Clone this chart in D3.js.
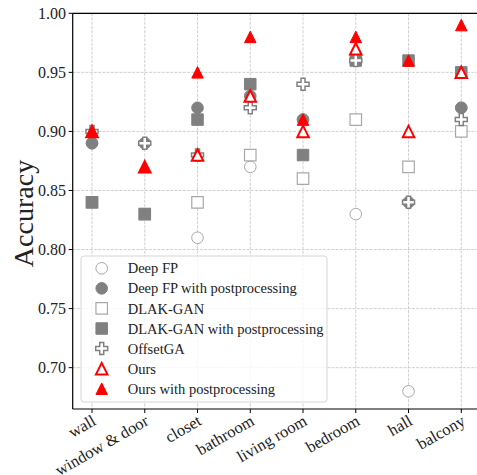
<!DOCTYPE html>
<html><head><meta charset="utf-8">
<script src="https://cdn.jsdelivr.net/npm/d3@7"></script>
<style>body{margin:0;background:#fff}svg{display:block}text{font-family:"Liberation Serif","Times New Roman",serif;fill:#222}</style>
</head><body><svg id="c" width="477" height="475"></svg>
<script>
const categories = ["wall","window & door","closet","bathroom","living room","bedroom","hall","balcony"];
const deepFP    = [0.89, 0.89, 0.81, 0.87, 0.91, 0.83, 0.68, 0.92];
const deepFPpp  = [0.89, 0.89, 0.92, 0.93, 0.91, 0.96, 0.84, 0.92];
const dlak      = [0.84, 0.83, 0.84, 0.88, 0.86, 0.91, 0.87, 0.90];
const dlakpp    = [0.84, 0.83, 0.91, 0.94, 0.88, 0.96, 0.96, 0.95];
const offsetGA  = [0.90, 0.89, 0.88, 0.92, 0.94, 0.96, 0.84, 0.91];
const ours      = [0.90, 0.87, 0.88, 0.93, 0.90, 0.97, 0.90, 0.95];
const oursPP    = [0.90, 0.87, 0.95, 0.98, 0.91, 0.98, 0.96, 0.99];
const yTicks = [0.70, 0.75, 0.80, 0.85, 0.90, 0.95, 1.00];
const seriesNames = ["Deep FP","Deep FP with postprocessing","DLAK-GAN","DLAK-GAN with postprocessing","OffsetGA","Ours","Ours with postprocessing"];

const svg = d3.select("#c");
const L = 72.7, R = 480.6, T = 13.3, B = 409;
const x = d3.scaleLinear().domain([-0.366, categories.length - 1 + 0.366]).range([L, R]);
const y = d3.scaleLinear().domain([0.665, 1.00]).range([B, T]);

// grid
const g = svg.append("g");
g.selectAll(".gx").data(categories).enter().append("line")
  .attr("x1",(d,i)=>x(i)).attr("x2",(d,i)=>x(i)).attr("y1",T).attr("y2",B)
  .attr("stroke","#c4c4c4").attr("stroke-width",0.8).attr("stroke-dasharray","2.96,1.28");
g.selectAll(".gy").data(yTicks).enter().append("line")
  .attr("x1",L).attr("x2",R).attr("y1",d=>y(d)).attr("y2",d=>y(d))
  .attr("stroke","#c4c4c4").attr("stroke-width",0.8).attr("stroke-dasharray","2.96,1.28");

// marker paths
const tri = s => `M0,${-s/2}L${s/2},${s/2}L${-s/2},${s/2}Z`;
const sq = s => `M${-s/2},${-s/2}H${s/2}V${s/2}H${-s/2}Z`;
const circ = r => d3.symbol(d3.symbolCircle, Math.PI*r*r)();
const plus = d3.symbol(d3.symbolCross, 5*16)();
const styles = [
  {d: circ(5.8), fill:"#fff", stroke:"#a8a8a8", sw:1},
  {d: circ(5.8), fill:"#808080", stroke:"#808080", sw:1},
  {d: sq(11.5), fill:"#fff", stroke:"#a8a8a8", sw:1.2},
  {d: sq(11.5), fill:"#808080", stroke:"#808080", sw:1},
  {d: plus, fill:"#fff", stroke:"#808080", sw:1.5},
  {d: tri(11.5), fill:"#fff", stroke:"#ff0000", sw:2},
  {d: tri(11.5), fill:"#ff0000", stroke:"#ff0000", sw:1}
];
const allSeries = [deepFP, deepFPpp, dlak, dlakpp, offsetGA, ours, oursPP];
const mg = svg.append("g");
allSeries.forEach((vals, si) => {
  const st = styles[si];
  mg.append("g").selectAll("path").data(vals.map((v,i)=>({v,i})).filter(d=>d.v!=null)).enter().append("path")
    .attr("d", st.d).attr("transform", d=>`translate(${x(d.i)},${y(d.v)})`)
    .attr("fill", st.fill).attr("stroke", st.stroke).attr("stroke-width", st.sw);
});

// spines
svg.append("line").attr("x1",L).attr("x2",L).attr("y1",T).attr("y2",B).attr("stroke","#000").attr("stroke-width",1.2);
svg.append("line").attr("x1",L).attr("x2",R).attr("y1",B).attr("y2",B).attr("stroke","#000").attr("stroke-width",1.2);
svg.append("line").attr("x1",L).attr("x2",R).attr("y1",T).attr("y2",T).attr("stroke","#000").attr("stroke-width",1.2);

// y ticks
const yt = svg.append("g");
yTicks.forEach(v=>{
  yt.append("line").attr("x1",L-4).attr("x2",L).attr("y1",y(v)).attr("y2",y(v)).attr("stroke","#000").attr("stroke-width",1);
  yt.append("text").attr("x",66).attr("y",y(v)).attr("dy","0.35em").attr("text-anchor","end")
    .attr("font-size",16).text(v.toFixed(2));
});
// x ticks
const xt = svg.append("g");
categories.forEach((c,i)=>{
  xt.append("line").attr("x1",x(i)).attr("x2",x(i)).attr("y1",B).attr("y2",B+4).attr("stroke","#000").attr("stroke-width",1);
  xt.append("text").attr("text-anchor","end").attr("font-size",16.5)
    .attr("transform",`translate(${x(i)+5},${424}) rotate(-30)`).text(c);
});
svg.append("text").attr("text-anchor","middle").attr("font-size",28)
  .attr("transform","translate(33,213.5) rotate(-90)").text("Accuracy");

// legend
const lg = svg.append("g");
lg.append("rect").attr("x",81).attr("y",256).attr("width",246).attr("height",146).attr("rx",3)
  .attr("fill","#fff").attr("fill-opacity",0.8).attr("stroke","#d6d6d6").attr("stroke-width",1);
seriesNames.forEach((n,i)=>{
  const ry = 268.3 + i*20.07;
  const st = styles[i];
  lg.append("path").attr("d",st.d).attr("transform",`translate(101.7,${ry})`)
    .attr("fill",st.fill).attr("stroke",st.stroke).attr("stroke-width",st.sw);
  lg.append("text").attr("x",127.7).attr("y",ry).attr("dy","0.35em").attr("font-size",14.5).text(n);
});
</script></body></html>
